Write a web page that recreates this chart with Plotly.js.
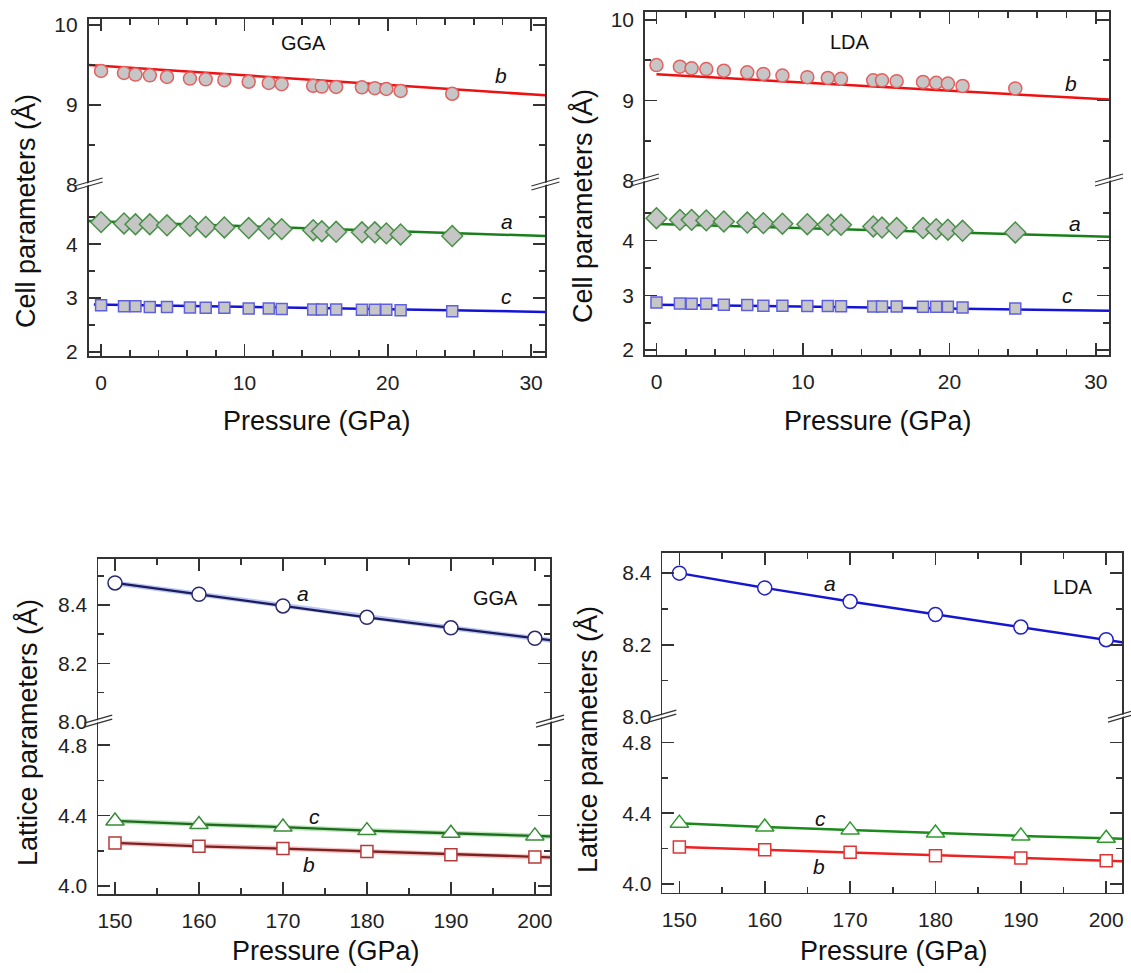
<!DOCTYPE html>
<html><head><meta charset="utf-8">
<script src="https://cdn.plot.ly/plotly-3.0.1.min.js"></script>
<style>html,body{margin:0;padding:0;background:#fff}#plot{width:1131px;height:973px}</style>
</head><body><div id="plot"></div>
<script>
// ---------- DATA ----------
const pressureLow = [0, 1.6, 2.4, 3.4, 4.6, 6.2, 7.3, 8.6, 10.3, 11.7, 12.6, 14.8, 15.4, 16.4, 18.2, 19.1, 19.9, 20.9, 24.5];
const bGGA = [9.425, 9.40, 9.38, 9.37, 9.35, 9.33, 9.32, 9.31, 9.29, 9.275, 9.26, 9.24, 9.23, 9.225, 9.22, 9.21, 9.20, 9.175, 9.14];
const aGGA = [4.41, 4.385, 4.37, 4.37, 4.35, 4.34, 4.32, 4.31, 4.30, 4.29, 4.28, 4.26, 4.24, 4.23, 4.22, 4.22, 4.20, 4.18, 4.15];
const cGGA = [2.864, 2.846, 2.846, 2.833, 2.833, 2.821, 2.815, 2.815, 2.802, 2.802, 2.796, 2.784, 2.784, 2.784, 2.778, 2.778, 2.778, 2.771, 2.753];
const bLDA = [9.44, 9.42, 9.40, 9.39, 9.37, 9.35, 9.33, 9.31, 9.29, 9.28, 9.27, 9.25, 9.25, 9.24, 9.23, 9.22, 9.21, 9.18, 9.15];
const aLDA = [4.41, 4.38, 4.38, 4.37, 4.35, 4.33, 4.32, 4.31, 4.30, 4.29, 4.29, 4.26, 4.24, 4.23, 4.23, 4.21, 4.20, 4.18, 4.15];
const cLDA = [2.87, 2.85, 2.845, 2.845, 2.83, 2.825, 2.81, 2.81, 2.805, 2.805, 2.80, 2.795, 2.795, 2.795, 2.79, 2.79, 2.79, 2.78, 2.76];

// fitted curves (end points)
const fitPGGA = [-0.87, 31];
const fitBGGA = [9.50, 9.12];
const fitAGGA = [4.43, 4.15];
const fitPcGGA = [-0.5, 31];
const fitCGGA = [2.88, 2.74];
const fitPLDA = [0, 31];
const fitBLDA = [9.325, 9.01];
const fitALDA = [4.305, 4.07];
const fitCLDA = [2.83, 2.72];

const pressureHigh = [150, 160, 170, 180, 190, 200];
const aGGAhp = [8.476, 8.437, 8.397, 8.358, 8.322, 8.286];
const cGGAhp = [4.37, 4.35, 4.335, 4.315, 4.30, 4.285];
const bGGAhp = [4.245, 4.226, 4.213, 4.197, 4.178, 4.165];
const aLDAhp = [8.399, 8.358, 8.320, 8.284, 8.249, 8.214];
const cLDAhp = [4.344, 4.322, 4.306, 4.288, 4.272, 4.259];
const bLDAhp = [4.209, 4.194, 4.179, 4.160, 4.147, 4.132];
// line continues to the right frame
const lineEndP = 202;
const lineEndGGA = {a: 8.279, c: 4.282, b: 4.163};
const lineEndLDA = {a: 8.206, c: 4.256, b: 4.129};

const xTicksLow = [0, 10, 20, 30];
const xTicksHigh = [150, 160, 170, 180, 190, 200];

// ---------- LAYOUT HELPERS ----------
const W = 1131, H = 973;
const px = x => x / W;
const py = y => 1 - y / H;
const FONT = 'Liberation Sans, Arial, sans-serif';
const AX = '#333';

const panels = [
  {L: 88.6, R: 545.4, T: 19, B: 185, Bot: 356, xr: [-0.87, 31], ur: [7.999, 10.075], lr: [1.92, 5.10],
   xt: xTicksLow, xm: 2, ut: [8, 9, 10], um: [8.5, 9.5], lt: [2, 3, 4], lm: [2.5, 3.5, 4.5], fmt: null},
  {L: 644.9, R: 1109, T: 12, B: 181, Bot: 355, xr: [-0.79, 30.9], ur: [7.999, 10.1], lr: [1.91, 5.09],
   xt: xTicksLow, xm: 2, ut: [8, 9, 10], um: [8.5, 9.5], lt: [2, 3, 4], lm: [2.5, 3.5, 4.5], fmt: null},
  {L: 98.2, R: 550, T: 559, B: 722, Bot: 894, xr: [148, 201.8], ur: [7.999, 8.558], lr: [3.955, 4.932],
   xt: xTicksHigh, xm: 5, ut: [8.0, 8.2, 8.4], um: [8.1, 8.3, 8.5], lt: [4.0, 4.4, 4.8], lm: [4.2, 4.6], fmt: '.1f'},
  {L: 662.3, R: 1122, T: 553, B: 717, Bot: 892.7, xr: [148, 201.85], ur: [7.999, 8.455], lr: [3.951, 4.944],
   xt: xTicksHigh, xm: 5, ut: [8.0, 8.2, 8.4], um: [8.1, 8.3], lt: [4.0, 4.4, 4.8], lm: [4.2, 4.6], fmt: '.1f'}
];

const layout = {
  width: W, height: H, margin: {l: 0, r: 0, t: 0, b: 0},
  paper_bgcolor: '#fff', plot_bgcolor: 'rgba(0,0,0,0)',
  showlegend: false, font: {family: FONT, color: '#222', size: 21},
  shapes: [], annotations: []
};
const nm = id => id === 1 ? '' : String(id);

panels.forEach((p, k) => {
  const xb = 2 * k + 1, xt = 2 * k + 2, yl = 2 * k + 1, yu = 2 * k + 2;
  const common = {showline: true, linewidth: 1.7, linecolor: AX, ticks: 'inside', tickcolor: AX,
    tickwidth: 1.6, ticklen: 12, showgrid: false, zeroline: false, tickfont: {family: FONT, size: 21, color: '#222'}};
  const minorX = {dtick: p.xm, tick0: p.xt[0], ticks: 'inside', ticklen: 6, tickcolor: AX, tickwidth: 1.6};
  layout['xaxis' + nm(xb)] = Object.assign({}, common, {
    domain: [px(p.L), px(p.R)], range: p.xr, anchor: 'y' + nm(yl), tickmode: 'array', tickvals: p.xt,
    minor: minorX, ticklabelstandoff: 7
  });
  layout['xaxis' + nm(xt)] = Object.assign({}, common, {
    domain: [px(p.L), px(p.R)], range: p.xr, anchor: 'y' + nm(yu), side: 'top', showticklabels: false,
    tickmode: 'array', tickvals: p.xt, minor: minorX
  });
  const ylab = v => p.fmt ? v.toFixed(1) : String(v);
  layout['yaxis' + nm(yl)] = Object.assign({}, common, {
    domain: [py(p.Bot), py(p.B)], range: p.lr, anchor: 'x' + nm(xb), mirror: 'ticks',
    tickmode: 'array', tickvals: p.lt, ticktext: p.lt.map(ylab),
    minor: {tickvals: p.lm, ticks: 'inside', ticklen: 6, tickcolor: AX, tickwidth: 1.6},
    ticklabelstandoff: 5
  });
  layout['yaxis' + nm(yu)] = Object.assign({}, common, {
    domain: [py(p.B), py(p.T)], range: p.ur, anchor: 'x' + nm(xt), mirror: 'ticks',
    tickmode: 'array', tickvals: p.ut, ticktext: p.ut.map(ylab),
    minor: {tickvals: p.um, ticks: 'inside', ticklen: 6, tickcolor: AX, tickwidth: 1.6},
    ticklabelstandoff: 5
  });
  // axis-break marks: two thin parallel slanted strokes with a white gap
  [p.L, p.R].forEach(cx => {
    const cy = p.B + 1;
    const hw = 14, rise = 8, gap = 4;
    const fill = `M ${px(cx - hw + 3)},${py(cy + rise / 2 - 1)} L ${px(cx + hw - 3)},${py(cy - rise / 2 - 1)} ` +
      `L ${px(cx + hw - 3)},${py(cy - rise / 2 - gap + 1)} L ${px(cx - hw + 3)},${py(cy + rise / 2 - gap + 1)} Z`;
    layout.shapes.push({type: 'path', xref: 'paper', yref: 'paper', path: fill, fillcolor: '#fff', line: {width: 0}, layer: 'above'});
    layout.shapes.push({type: 'line', xref: 'paper', yref: 'paper', x0: px(cx - hw), y0: py(cy + rise / 2), x1: px(cx + hw), y1: py(cy - rise / 2), line: {color: AX, width: 1.3}, layer: 'above'});
    layout.shapes.push({type: 'line', xref: 'paper', yref: 'paper', x0: px(cx - hw), y0: py(cy + rise / 2 - gap), x1: px(cx + hw), y1: py(cy - rise / 2 - gap), line: {color: AX, width: 1.3}, layer: 'above'});
  });
});

// ---------- TRACES ----------
const traces = [];
const GRAY = '#c6c6c6';
function line(x, y, xa, ya, color, width) {
  traces.push({x, y, xaxis: xa, yaxis: ya, mode: 'lines', line: {color, width: width || 2.5}, hoverinfo: 'skip'});
}
function pts(x, y, xa, ya, symbol, size, fill, edge) {
  traces.push({x, y, xaxis: xa, yaxis: ya, mode: 'markers', cliponaxis: false,
    marker: {symbol, size, color: fill, line: {color: edge, width: 1.5}}});
}
// Panel 1 : GGA low pressure
line(fitPGGA, fitBGGA, 'x2', 'y2', '#ee1111');
pts(pressureLow, bGGA, 'x2', 'y2', 'circle', 13, GRAY, 'rgb(228,95,95)');
line(fitPGGA, fitAGGA, 'x', 'y', '#1a7f1a');
pts(pressureLow, aGGA, 'x', 'y', 'diamond', 16, GRAY, 'rgb(70,145,70)');
line(fitPcGGA, fitCGGA, 'x', 'y', '#1414d8');
pts(pressureLow, cGGA, 'x', 'y', 'square', 11, GRAY, 'rgb(95,95,225)');
// Panel 2 : LDA low pressure
line(fitPLDA, fitBLDA, 'x4', 'y4', '#ee1111');
pts(pressureLow, bLDA, 'x4', 'y4', 'circle', 13, GRAY, 'rgb(228,95,95)');
line(fitPLDA, fitALDA, 'x3', 'y3', '#1a7f1a');
pts(pressureLow, aLDA, 'x3', 'y3', 'diamond', 16, GRAY, 'rgb(70,145,70)');
line(fitPLDA, fitCLDA, 'x3', 'y3', '#1414d8');
pts(pressureLow, cLDA, 'x3', 'y3', 'square', 11, GRAY, 'rgb(95,95,225)');
// Panel 3 : GGA high pressure
const hpP = pressureHigh.concat([lineEndP]);
line(hpP, aGGAhp.concat([lineEndGGA.a]), 'x6', 'y6', 'rgba(130,150,235,0.55)', 5);
line(hpP, aGGAhp.concat([lineEndGGA.a]), 'x6', 'y6', '#1c1c5c', 2.3);
pts(pressureHigh, aGGAhp, 'x6', 'y6', 'circle', 14, '#fff', '#2a2a6c');
line(hpP, cGGAhp.concat([lineEndGGA.c]), 'x5', 'y5', 'rgba(130,210,130,0.55)', 5);
line(hpP, cGGAhp.concat([lineEndGGA.c]), 'x5', 'y5', '#1f6a1f', 2.3);
pts(pressureHigh, cGGAhp, 'x5', 'y5', 'triangle-up', 16, '#fff', '#3a8a3a');
line(hpP, bGGAhp.concat([lineEndGGA.b]), 'x5', 'y5', 'rgba(240,140,140,0.55)', 5);
line(hpP, bGGAhp.concat([lineEndGGA.b]), 'x5', 'y5', '#7a2222', 2.3);
pts(pressureHigh, bGGAhp, 'x5', 'y5', 'square', 12, '#fff', '#b53a3a');
// Panel 4 : LDA high pressure
line(hpP, aLDAhp.concat([lineEndLDA.a]), 'x8', 'y8', '#1616d0', 2.5);
pts(pressureHigh, aLDAhp, 'x8', 'y8', 'circle', 14, '#fff', '#2222c4');
line(hpP, cLDAhp.concat([lineEndLDA.c]), 'x7', 'y7', '#1a8a1a', 2.5);
pts(pressureHigh, cLDAhp, 'x7', 'y7', 'triangle-up', 16, '#fff', '#2e9a2e');
line(hpP, bLDAhp.concat([lineEndLDA.b]), 'x7', 'y7', '#ee2020', 2.5);
pts(pressureHigh, bLDAhp, 'x7', 'y7', 'square', 12, '#fff', '#dd3434');

// ---------- TEXT ----------
function lab(text, x, y, xa, ya, size) {
  layout.annotations.push({text, x, y, xref: xa, yref: ya, showarrow: false, font: {family: FONT, size: size || 21, color: '#111'}});
}
lab('GGA', 14.1, 9.77, 'x2', 'y2', 20);
lab('<i>b</i>', 27.9, 9.37, 'x2', 'y2');
lab('<i>a</i>', 28.3, 4.42, 'x', 'y');
lab('<i>c</i>', 28.3, 3.02, 'x', 'y');
lab('LDA', 13.2, 9.73, 'x4', 'y4', 20);
lab('<i>b</i>', 28.3, 9.21, 'x4', 'y4');
lab('<i>a</i>', 28.6, 4.32, 'x3', 'y3');
lab('<i>c</i>', 28.1, 2.99, 'x3', 'y3');
lab('<i>a</i>', 172.4, 8.44, 'x6', 'y6');
lab('GGA', 195.3, 8.425, 'x6', 'y6', 20);
lab('<i>c</i>', 173.7, 4.395, 'x5', 'y5');
lab('<i>b</i>', 173.1, 4.12, 'x5', 'y5');
lab('<i>a</i>', 167.6, 8.37, 'x8', 'y8');
lab('LDA', 196.1, 8.36, 'x8', 'y8', 20);
lab('<i>c</i>', 166.5, 4.372, 'x7', 'y7');
lab('<i>b</i>', 166.4, 4.10, 'x7', 'y7');

function title(text, xpx, ypx, angle) {
  layout.annotations.push({text, x: px(xpx), y: py(ypx), xref: 'paper', yref: 'paper', showarrow: false,
    textangle: angle || 0, xanchor: 'center', yanchor: 'middle', font: {family: FONT, size: 27, color: '#111'}});
}
title('Pressure (GPa)', 317, 421);
title('Pressure (GPa)', 878, 421);
title('Pressure (GPa)', 326, 951);
title('Pressure (GPa)', 894, 951);
title('Cell parameters (Å)', 25, 211, -90);
title('Cell parameters (Å)', 583, 206, -90);
title('Lattice parameters (Å)', 27, 733, -90);
title('Lattice parameters (Å)', 587, 740, -90);

Plotly.newPlot('plot', traces, layout, {staticPlot: true});
</script></body></html>
